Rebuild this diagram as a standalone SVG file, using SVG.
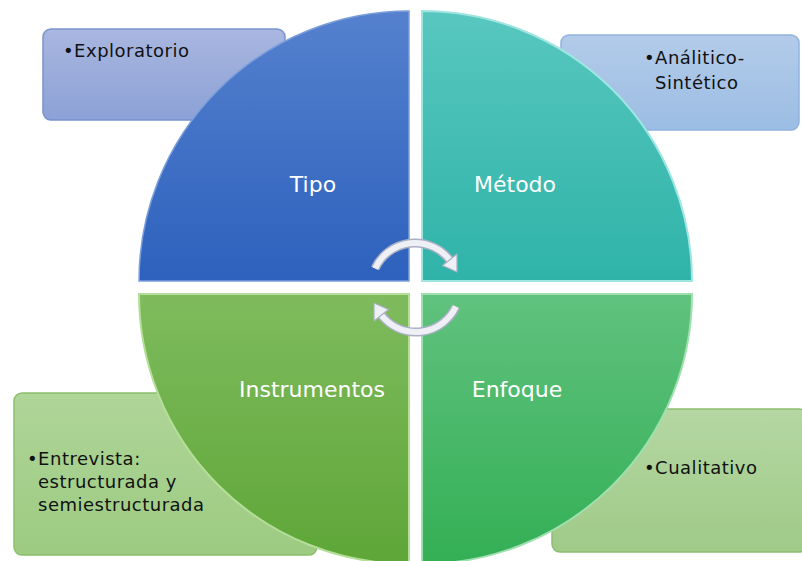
<svg xmlns="http://www.w3.org/2000/svg" width="802" height="561" viewBox="0 0 802 561">
<defs>
<linearGradient id="gTipo" x1="0" y1="0" x2="0" y2="1"><stop offset="0" stop-color="#5581ce"/><stop offset="1" stop-color="#2d61bd"/></linearGradient>
<linearGradient id="gMet" x1="0" y1="0" x2="0" y2="1"><stop offset="0" stop-color="#58c7bf"/><stop offset="1" stop-color="#2fb3a8"/></linearGradient>
<linearGradient id="gIns" x1="0" y1="0" x2="0" y2="1"><stop offset="0" stop-color="#7fbb5d"/><stop offset="1" stop-color="#5ea638"/></linearGradient>
<linearGradient id="gEnf" x1="0" y1="0" x2="0" y2="1"><stop offset="0" stop-color="#60c27e"/><stop offset="1" stop-color="#33af55"/></linearGradient>
<linearGradient id="bBlue1" x1="0" y1="0" x2="0" y2="1"><stop offset="0" stop-color="#a9b7e0"/><stop offset="1" stop-color="#8ca1d6"/></linearGradient>
<linearGradient id="bBlue2" x1="0" y1="0" x2="0" y2="1"><stop offset="0" stop-color="#b3cbe9"/><stop offset="1" stop-color="#9bbde3"/></linearGradient>
<linearGradient id="bGreen1" x1="0" y1="0" x2="0" y2="1"><stop offset="0" stop-color="#afd598"/><stop offset="1" stop-color="#9dcb82"/></linearGradient>
<linearGradient id="bGreen2" x1="0" y1="0" x2="0" y2="1"><stop offset="0" stop-color="#b5d7a3"/><stop offset="1" stop-color="#9fca87"/></linearGradient>
<g id="arrowTop">
<path d="M375.1,268.4 A44,44 0 0 1 449.7,259.9" fill="none" stroke="#aab0c4" stroke-width="9"/>
<path d="M375.1,268.4 A44,44 0 0 1 449.7,259.9" fill="none" stroke="#eef0f6" stroke-width="6"/>
<polygon points="442.5,265.5 457,254 457,272" fill="#eef0f6" stroke="#aab0c4" stroke-width="1.2" stroke-linejoin="round"/>
</g>
</defs>
<style>
.box{stroke-width:1.5}
.lbl{font-family:"DejaVu Sans","Liberation Sans",sans-serif;font-size:22px;fill:#ffffff;text-anchor:middle}
.txt{font-family:"DejaVu Sans","Liberation Sans",sans-serif;font-size:18px;fill:#111111;letter-spacing:0.5px}
</style>
<rect width="802" height="561" fill="#ffffff"/>

<g id="box-exploratorio">
<rect class="box" x="43" y="29" width="242" height="91" rx="8" fill="url(#bBlue1)" stroke="#7a93cc"/>
<text class="txt" x="63" y="57">•Exploratorio</text>
</g>
<g id="box-analitico">
<rect class="box" x="561" y="35" width="238" height="95" rx="8" fill="url(#bBlue2)" stroke="#8fb2de"/>
<text class="txt" x="644" y="64" letter-spacing="1">•Análitico-</text>
<text class="txt" x="655" y="89" letter-spacing="1">Sintético</text>
</g>
<g id="box-entrevista">
<rect class="box" x="14" y="393" width="303" height="162" rx="8" fill="url(#bGreen1)" stroke="#8cbf6c"/>
<text class="txt" x="27" y="465">•Entrevista:</text>
<text class="txt" x="38" y="488">estructurada y</text>
<text class="txt" x="38" y="511">semiestructurada</text>
</g>
<g id="box-cualitativo">
<rect class="box" x="552" y="409" width="255" height="143" rx="8" fill="url(#bGreen2)" stroke="#8dbd72"/>
<text class="txt" x="644" y="474" letter-spacing="0.1">•Cualitativo</text>
</g>

<g id="tipo">
<path d="M409,281 L139,281 A270,270 0 0 1 409,11 Z" fill="url(#gTipo)" stroke="#7b9edb" stroke-width="1.5"/>
<text class="lbl" x="313" y="192">Tipo</text>
</g>
<g id="metodo">
<path d="M422,281 L422,11 A270,270 0 0 1 692,281 Z" fill="url(#gMet)" stroke="#9fe6e1" stroke-width="2"/>
<text class="lbl" x="515" y="192">Método</text>
</g>
<g id="instrumentos">
<path d="M409,294 L409,564 A270,270 0 0 1 139,294 Z" fill="url(#gIns)" stroke="#b5df98" stroke-width="2"/>
<text class="lbl" x="312" y="397">Instrumentos</text>
</g>
<g id="enfoque">
<path d="M422,294 L692,294 A270,270 0 0 1 422,564 Z" fill="url(#gEnf)" stroke="#9ee0b0" stroke-width="2"/>
<text class="lbl" x="517" y="397">Enfoque</text>
</g>

<g id="connectors">
<use href="#arrowTop"/>
<use href="#arrowTop" transform="rotate(180 415.5 287.5)"/>
</g>
</svg>
